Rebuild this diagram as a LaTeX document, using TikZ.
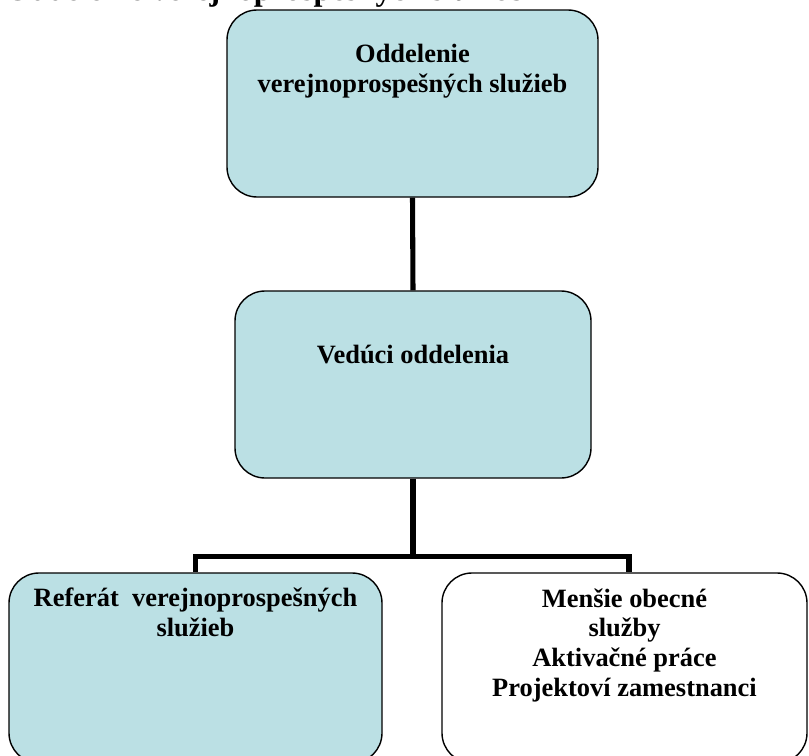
\documentclass[tikz,border=0pt]{standalone}
\usepackage{fontspec}
\setmainfont{Liberation Serif}
\definecolor{boxBlue}{RGB}{187,224,228}
\begin{document}
\begin{tikzpicture}[x=0.025cm, y=-0.025cm, boxStyle/.style={rectangle, draw, line width=1pt, rounded corners=0.75cm, fill=boxBlue, inner sep=0pt}, plainStyle/.style={boxStyle, fill=white}, textStyle/.style={align=center, inner sep=0pt, anchor=base, font=\bfseries\fontsize{18.8}{21}\selectfont}, linkStyle/.style={line width=3.6pt}]
    \useasboundingbox (0, 0) rectangle (809, 756);
    \node[anchor=base west, inner sep=0pt, font=\bfseries\fontsize{22.7}{25}\selectfont](title) at (5, 1) {Oddelenie verejnoprospešných služieb};

    \node[boxStyle, minimum width=371*0.025cm, minimum height=187*0.025cm] (box_top) at (412.5, 103.5) {};
    \node[boxStyle, minimum width=356*0.025cm, minimum height=187*0.025cm] (box_mid) at (413, 384.5) {};
    \node[boxStyle, minimum width=373*0.025cm, minimum height=190*0.025cm] (box_left) at (195.5, 668) {};
    \node[plainStyle, minimum width=365*0.025cm, minimum height=190*0.025cm] (box_right) at (624.5, 668) {};

    % base anchor sits on the last line
    \node[textStyle](txt_top)   at (412.5, 92)  {Oddelenie\\verejnoprospešných služieb};
    \node[textStyle](txt_mid)   at (413, 363)   {Vedúci oddelenia};
    \node[textStyle](txt_left)  at (195.5, 636) {Referát\ \ verejnoprospešných\\služieb};
    \node[textStyle](txt_right) at (624.5, 696) {Menšie obecné\\služby\\Aktivačné práce\\Projektoví zamestnanci};

    \draw[linkStyle] (box_top.south) -- (box_mid.north);
    \draw[linkStyle] (box_mid.south) -- ++(0, 78) coordinate (split);
    \draw[linkStyle] (split) -| (box_left.north);
    \draw[linkStyle] (split) -| ([xshift=4.5*0.025cm]box_right.north);
\end{tikzpicture}
\end{document}
